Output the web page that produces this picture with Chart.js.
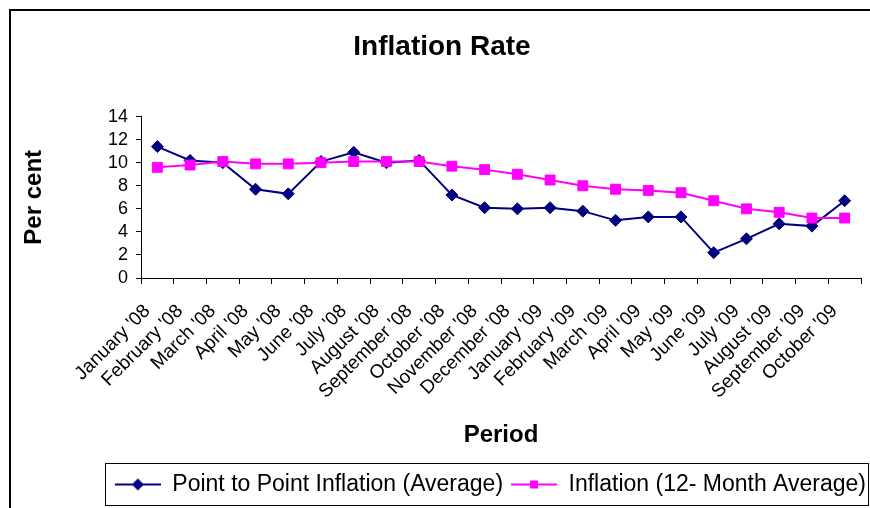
<!DOCTYPE html>
<html><head><meta charset="utf-8">
<script src="https://cdn.jsdelivr.net/npm/chart.js@4/dist/chart.umd.min.js"></script>
<style>html,body{margin:0;padding:0;background:#fff;}#wrap{width:870px;height:508px;}</style>
</head><body><div id="wrap"><canvas id="c" width="870" height="508"></canvas></div>
<script>
const categories = ["January '08","February '08","March '08","April '08","May '08","June '08","July '08","August '08","September '08","October '08","November '08","December '08","January '09","February '09","March '09","April '09","May '09","June '09","July '09","August '09","September '09","October '09"];
const pointToPoint = [11.4,10.2,10.0,7.7,7.3,10.1,10.9,10.0,10.2,7.2,6.1,6.0,6.1,5.8,5.0,5.3,5.3,2.2,3.4,4.7,4.5,6.7];
const twelveMonth = [9.6,9.8,10.1,9.9,9.9,10.0,10.1,10.1,10.1,9.7,9.4,9.0,8.5,8.0,7.7,7.6,7.4,6.7,6.0,5.7,5.2,5.2];
const seriesNames = ["Point to Point Inflation (Average)","Inflation (12- Month Average)"];
const yMin = 0, yMax = 14, yStep = 2;

const FONT = "'Liberation Sans', Arial, Helvetica, sans-serif";
const NAVY = '#000080', MAGENTA = '#FF00FF';

function legendIcon(color, shape){
  const c = document.createElement('canvas');
  c.width = 50; c.height = 16;
  const g = c.getContext('2d');
  g.strokeStyle = color; g.lineWidth = 2;
  g.beginPath(); g.moveTo(4,8); g.lineTo(50,8); g.stroke();
  g.fillStyle = color;
  if (shape === 'diamond'){
    g.beginPath(); g.moveTo(21,8); g.lineTo(27,2); g.lineTo(33,8); g.lineTo(27,14); g.closePath(); g.fill();
  } else {
    g.fillRect(23,4,8,8);
  }
  return c;
}
const icons = [legendIcon(NAVY,'diamond'), legendIcon(MAGENTA,'square')];

const framePlugin = {
  id: 'frame',
  beforeDraw(chart){
    const ctx = chart.ctx;
    ctx.save();
    ctx.fillStyle = '#fff'; ctx.fillRect(0,0,chart.width,chart.height);
    ctx.strokeStyle = '#000'; ctx.lineWidth = 2;
    ctx.beginPath(); ctx.moveTo(10,chart.height); ctx.lineTo(10,10); ctx.lineTo(chart.width,10); ctx.stroke();
    ctx.restore();
  },
  afterDraw(chart){
    const lg = chart.legend; if (!lg || !lg.legendHitBoxes.length) return;
    const hb = lg.legendHitBoxes;
    const first = hb[0], last = hb[hb.length-1];
    const ctx = chart.ctx;
    ctx.save();
    ctx.strokeStyle = '#000'; ctx.lineWidth = 1;
    const l = Math.round(first.left) - 5.5;
    const r = Math.min(chart.width - 1.5, Math.round(last.left + last.width) + 2.5);
    const t = Math.round(first.top) - 9.5;
    const b = Math.round(first.top + first.height) + 9.5;
    ctx.strokeRect(l, t, r - l, b - t);
    ctx.restore();
  }
};

new Chart(document.getElementById('c'), {
  type: 'line',
  data: {
    labels: categories,
    datasets: [
      { label: seriesNames[0], data: pointToPoint, borderColor: NAVY, backgroundColor: NAVY,
        borderWidth: 2, pointStyle: 'rectRot', pointRadius: 6, pointBorderWidth: 1,
        pointBackgroundColor: NAVY, pointBorderColor: NAVY, tension: 0, order: 2 },
      { label: seriesNames[1], data: twelveMonth, borderColor: MAGENTA, backgroundColor: MAGENTA,
        borderWidth: 2, pointStyle: 'rect', pointRadius: 7, pointBorderWidth: 1,
        pointBackgroundColor: MAGENTA, pointBorderColor: MAGENTA, tension: 0, order: 1 }
    ]
  },
  options: {
    responsive: false, animation: false, devicePixelRatio: 1,
    layout: { padding: { left: 14, right: 0, top: 12, bottom: 2 } },
    plugins: {
      tooltip: { enabled: false },
      title: { display: true, text: 'Inflation Rate', color: '#000',
        font: { family: FONT, size: 28, weight: 'bold' }, padding: { top: 18, bottom: 53 } },
      legend: { position: 'bottom', align: 'end',
        labels: { usePointStyle: true, pointStyleWidth: 50, color: '#000', padding: 4,
          font: { family: FONT, size: 23 },
          generateLabels: (chart) => chart.data.datasets.map((ds, i) => ({
            text: ds.label, fillStyle: ds.borderColor, strokeStyle: ds.borderColor,
            lineWidth: 0, pointStyle: icons[i], rotation: 0, hidden: false, datasetIndex: i, fontColor: '#000'
          }))
        }
      }
    },
    scales: {
      x: {
        offset: true,
        grid: { offset: true, drawOnChartArea: false, drawTicks: true, tickLength: 6, color: '#000', lineWidth: 1 },
        border: { display: true, color: '#000', width: 1 },
        ticks: { autoSkip: false, minRotation: 45, maxRotation: 45, color: '#000', padding: 16, labelOffset: -10,
          font: { family: FONT, size: 19 } },
        title: { display: true, text: 'Period', color: '#000', font: { family: FONT, size: 24, weight: 'bold' },
          padding: { top: 0, bottom: 19 } },
        afterFit: (s) => { s.height = 191; s.paddingRight = 0; s.paddingLeft = 0; }
      },
      y: {
        min: yMin, max: yMax,
        grid: { drawOnChartArea: false, drawTicks: true, tickLength: 5, color: '#000' },
        border: { display: true, color: '#000', width: 1 },
        ticks: { stepSize: yStep, autoSkip: false, color: '#000', padding: 8, font: { family: FONT, size: 18 } },
        title: { display: true, text: 'Per cent', color: '#000', font: { family: FONT, size: 24, weight: 'bold' },
          padding: { top: 6, bottom: 4 } },
        afterFit: (s) => { s.width = 127; }
      },
      yRight: {
        position: 'right', display: true,
        grid: { display: false }, border: { display: false }, ticks: { display: false },
        afterFit: (s) => { s.width = 9; }
      }
    }
  },
  plugins: [framePlugin]
});
</script></body></html>
